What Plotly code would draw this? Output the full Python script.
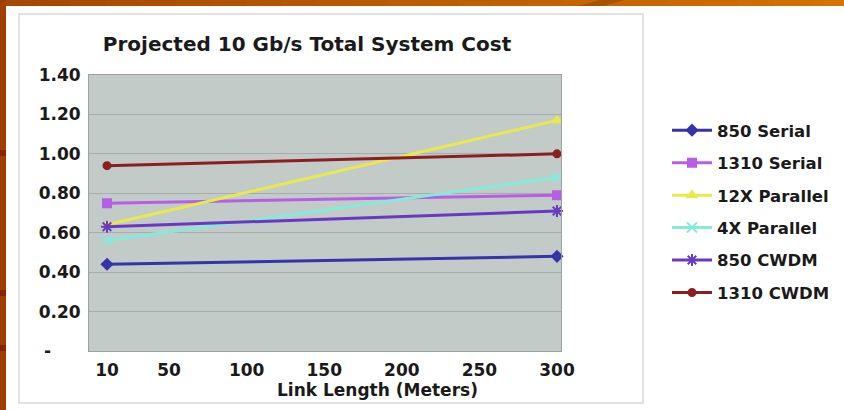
import plotly.graph_objects as go

# ---- data ----
link_length = [10, 300]
series_names = ["850 Serial", "1310 Serial", "12X Parallel", "4X Parallel", "850 CWDM", "1310 CWDM"]
cost_850_serial = [0.44, 0.48]
cost_1310_serial = [0.75, 0.79]
cost_12x_parallel = [0.64, 1.17]
cost_4x_parallel = [0.56, 0.88]
cost_850_cwdm = [0.63, 0.71]
cost_1310_cwdm = [0.94, 1.00]
x_ticks = [10, 50, 100, 150, 200, 250, 300]
y_ticks = [0, 0.2, 0.4, 0.6, 0.8, 1.0, 1.2, 1.4]
y_ticktext = ["-\u00a0\u00a0\u00a0\u00a0\u00a0", "0.20", "0.40", "0.60", "0.80", "1.00", "1.20", "1.40"]

series_values = [cost_850_serial, cost_1310_serial, cost_12x_parallel,
                 cost_4x_parallel, cost_850_cwdm, cost_1310_cwdm]
colors = ["#3634A8", "#B65FE6", "#E9E94C", "#86EADA", "#6A38C2", "#8A1F22"]
symbols = ["diamond", "square", "triangle-up", "x-thin-open", "asterisk-open", "circle"]
msizes = [8, 8, 8, 10, 10, 7]

FONT = "DejaVu Sans"

fig = go.Figure()
for i, (name, vals) in enumerate(zip(series_names, series_values)):
    fig.add_trace(go.Scatter(
        x=link_length, y=vals, name=f"<b>{name}</b>", mode="lines+markers",
        line=dict(color=colors[i], width=3),
        marker=dict(symbol=symbols[i], size=msizes[i], color=colors[i],
                    line=dict(color=colors[i], width=2)),
        legendgroup=name, cliponaxis=False,
    ))

W, H = 844, 410
L, R, T, B = 89, 283, 75, 59
pw, ph = W - L - R, H - T - B

def px(xp):
    return (xp - L) / pw

def py(yp):
    return (H - B - yp) / ph

shapes = []
# panel border
shapes.append(dict(type="rect", xref="paper", yref="paper",
                   x0=px(19), x1=px(643), y0=py(403), y1=py(14),
                   line=dict(color="#E2E2E2", width=2), fillcolor="rgba(0,0,0,0)", layer="below"))
# orange frame (top strip gradient, left strip)
n = 24
c0 = (0xA6, 0x48, 0x04)
c1 = (0xD2, 0x72, 0x00)
for k in range(n):
    t = k / (n - 1)
    c = tuple(int(c0[j] + (c1[j] - c0[j]) * t) for j in range(3))
    shapes.append(dict(type="rect", xref="paper", yref="paper",
                       x0=px(W * k / n), x1=px(W * (k + 1) / n + 1), y0=py(6), y1=py(0),
                       line=dict(width=0), fillcolor="rgb(%d,%d,%d)" % c, layer="below"))
shapes.append(dict(type="path", xref="paper", yref="paper",
                   path="M %f,%f L %f,%f L %f,%f L %f,%f Z" % (px(578), py(6), px(600), py(0), px(625), py(0), px(603), py(6)),
                   line=dict(width=0), fillcolor="rgba(150,70,0,0.6)", layer="below"))
shapes.append(dict(type="rect", xref="paper", yref="paper",
                   x0=px(0), x1=px(6), y0=py(H), y1=py(0),
                   line=dict(width=0), fillcolor="#A03F02", layer="below"))
for yy in (150, 290, 345):
    shapes.append(dict(type="rect", xref="paper", yref="paper",
                       x0=px(0), x1=px(6), y0=py(yy + 6), y1=py(yy),
                       line=dict(width=0), fillcolor="#8A2208", layer="below"))

fig.update_layout(
    width=W, height=H,
    margin=dict(l=L, r=R, t=T, b=B, autoexpand=False),
    paper_bgcolor="white",
    plot_bgcolor="#C3CBC9",
    font=dict(family=FONT, color="#1A1A1A"),
    title=dict(text="<b>Projected 10 Gb/s Total System Cost</b>",
               x=307 / W, xanchor="center", y=1 - 44 / H, yanchor="middle",
               font=dict(size=20, family=FONT, color="#1A1A1A")),
    showlegend=True,
    legend=dict(x=px(667), xanchor="left", y=py(113), yanchor="top",
                font=dict(size=16.5, family=FONT, color="#1A1A1A"),
                bgcolor="rgba(0,0,0,0)", tracegroupgap=8, itemwidth=40),
    shapes=shapes,
    annotations=[dict(text="<b>Link Length (Meters)</b>", xref="paper", yref="paper",
                      x=px(377), y=py(390), xanchor="center", yanchor="middle",
                      showarrow=False, font=dict(size=17, family=FONT, color="#1A1A1A"))],
)
fig.update_xaxes(range=[-1.6, 302.6], tickvals=x_ticks, ticktext=[f"<b>{v}</b>" for v in x_ticks],
                 showgrid=False, zeroline=False, showline=True, linecolor="#9AA19F", linewidth=1,
                 mirror=True, ticks="", ticklabelstandoff=4,
                 tickfont=dict(size=17, family=FONT, color="#1A1A1A"))
fig.update_yaxes(range=[0, 1.4], tickvals=y_ticks, ticktext=[f"<b>{t}</b>" for t in y_ticktext],
                 showgrid=True, gridcolor="#A6AEAC", gridwidth=1, zeroline=False,
                 showline=True, linecolor="#9AA19F", linewidth=1, mirror=True, ticks="",
                 ticklabelstandoff=4,
                 tickfont=dict(size=17, family=FONT, color="#1A1A1A"))

fig.write_html("out.html", config={"displayModeBar": False},
               post_script="document.body.style.margin='0px';document.body.style.overflow='hidden';")
